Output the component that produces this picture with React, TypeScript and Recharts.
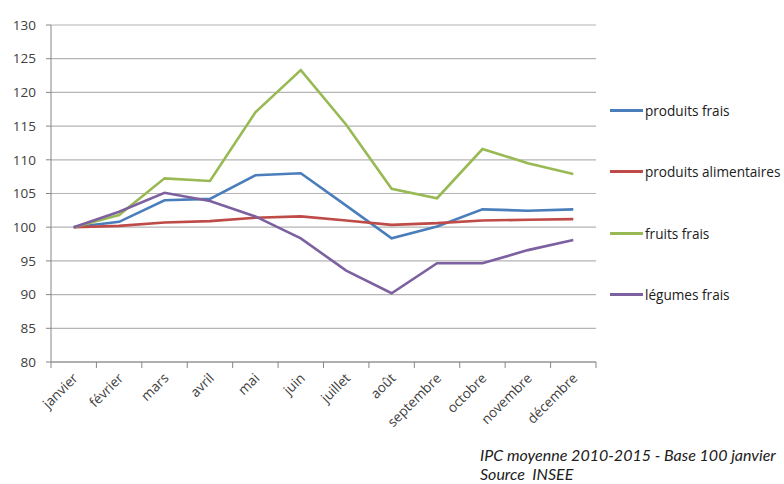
import React from "react";
import { LineChart, Line, XAxis, YAxis, CartesianGrid, Legend } from "recharts";

// Mois de l'année (base 100 en janvier)
const months = [
  "janvier", "février", "mars", "avril", "mai", "juin",
  "juillet", "août", "septembre", "octobre", "novembre", "décembre",
];

const produitsFrais = [100, 100.8, 104.0, 104.2, 107.7, 108.0, 103.2, 98.35, 100.1, 102.65, 102.45, 102.65];
const produitsAlimentaires = [100, 100.2, 100.7, 100.9, 101.4, 101.6, 101.0, 100.35, 100.6, 101.0, 101.1, 101.2];
const fruitsFrais = [100, 101.8, 107.25, 106.85, 117.05, 123.3, 115.2, 105.7, 104.3, 111.6, 109.5, 107.9];
const legumesFrais = [100, 102.3, 105.1, 103.9, 101.6, 98.35, 93.55, 90.2, 94.65, 94.65, 96.6, 98.1];

const yTicks = [80, 85, 90, 95, 100, 105, 110, 115, 120, 125, 130];

const series = [
  { key: "pf", name: "produits frais", values: produitsFrais, color: "#4A7EBB" },
  { key: "pa", name: "produits alimentaires", values: produitsAlimentaires, color: "#BE4B48" },
  { key: "ff", name: "fruits frais", values: fruitsFrais, color: "#98B954" },
  { key: "lf", name: "légumes frais", values: legumesFrais, color: "#7D60A0" },
];

const data = months.map((m, i) => {
  const row: Record<string, string | number> = { month: m };
  series.forEach((s) => {
    row[s.key] = s.values[i];
  });
  return row;
});

const FONT = "'Open Sans', Lato, sans-serif";
const NOTE_FONT = "Lato, 'Open Sans', sans-serif";
const WIDTH = 784;
const HEIGHT = 484;
const MARGIN = { top: 25, right: 188, bottom: 62, left: 0 };
const Y_AXIS_WIDTH = 51;
const BAND = (WIDTH - MARGIN.left - MARGIN.right - Y_AXIS_WIDTH) / months.length;

// Month label rotated -45°, with tick marks on the category boundaries
const MonthTick = (props: any) => {
  const { x, y, payload, index } = props;
  const last = index === months.length - 1;
  return (
    <g transform={`translate(${x},${y})`}>
      <line x1={-BAND / 2} y1={0} x2={-BAND / 2} y2={6} stroke="#868686" strokeWidth={1} />
      {last && <line x1={BAND / 2} y1={0} x2={BAND / 2} y2={6} stroke="#868686" strokeWidth={1} />}
      <text
        x={5}
        y={17}
        textAnchor="end"
        transform="rotate(-45 5 17)"
        fontFamily={FONT}
        fontSize={13.6}
        fill="#404040"
      >
        {payload.value}
      </text>
    </g>
  );
};

const LegendContent = () => (
  <div style={{ fontFamily: FONT, fontSize: 13.6, color: "#202020" }}>
    {series.map((s) => (
      <div key={s.key} style={{ display: "flex", alignItems: "center", height: 61.3 }}>
        <div style={{ width: 33, height: 3, background: s.color, marginRight: 2 }} />
        <span>{s.name}</span>
      </div>
    ))}
  </div>
);

export default function App() {
  return (
    <div style={{ position: "absolute", left: 0, top: 0, width: WIDTH, height: HEIGHT, background: "#fff", overflow: "hidden" }}>
      <LineChart width={WIDTH} height={HEIGHT} data={data} margin={MARGIN}>
        <CartesianGrid vertical={false} stroke="#b4b4b4" strokeWidth={1.2} />
        <XAxis
          dataKey="month"
          interval={0}
          height={60}
          padding={{ left: BAND / 2, right: BAND / 2 }}
          tickSize={0}
          tickMargin={0}
          tickLine={false}
          axisLine={{ stroke: "#868686" }}
          tick={<MonthTick />}
        />
        <YAxis
          width={Y_AXIS_WIDTH}
          domain={[80, 130]}
          ticks={yTicks}
          interval={0}
          tickSize={5}
          tickMargin={10}
          axisLine={{ stroke: "#868686" }}
          tickLine={{ stroke: "#868686" }}
          tick={{ fontFamily: FONT, fontSize: 13.5, fill: "#404040" }}
        />
        <Legend
          layout="vertical"
          align="center"
          verticalAlign="middle"
          content={<LegendContent />}
          wrapperStyle={{ position: "absolute", left: 610, top: 80, width: 174 }}
        />
        {series.map((s) => (
          <Line
            key={s.key}
            type="linear"
            dataKey={s.key}
            name={s.name}
            stroke={s.color}
            strokeWidth={2.6}
            dot={false}
            activeDot={false}
            isAnimationActive={false}
          />
        ))}
      </LineChart>
      <div
        style={{
          position: "absolute",
          left: 480,
          top: 445,
          fontFamily: NOTE_FONT,
          fontStyle: "italic",
          fontSize: 16,
          lineHeight: "19.2px",
          color: "#202020",
          whiteSpace: "nowrap",
        }}
      >
        <div>IPC moyenne 2010-2015 - Base 100 janvier</div>
        <div>Source&nbsp;&nbsp;INSEE</div>
      </div>
    </div>
  );
}
